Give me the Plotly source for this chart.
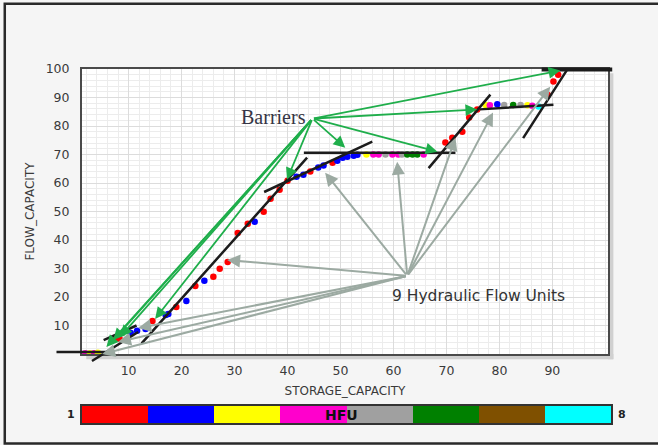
import plotly.graph_objects as go

# Hydraulic flow unit palette, HFU 1..8
hfu_ids = [1, 2, 3, 4, 5, 6, 7, 8]
hfu_colors = ["#ff0000", "#0000ff", "#ffff00", "#ff00cc",
              "#a0a0a0", "#008000", "#7f5000", "#00ffff"]

# Core samples: cumulative storage capacity, flow capacity and HFU
storage = [1.8, 2.7, 3.5, 4.2, 7.5, 8.3, 10.4, 11.6, 13.2, 14.5, 17.0, 17.5,
           19.0, 20.9, 22.6, 24.3, 26.0, 27.2, 28.7, 30.6, 32.5, 33.8, 35.5,
           36.8, 38.5, 40.0, 41.7, 43.0, 44.3, 45.8, 46.8, 48.5, 49.4, 50.4,
           51.3, 52.5, 53.2, 54.9, 56.2, 57.2, 58.5, 59.8, 60.9, 61.6, 62.6,
           63.6, 64.5, 65.7, 69.8, 71.1, 73.0, 74.3, 75.8, 77.4, 78.2, 79.6,
           80.9, 82.6, 84.0, 85.3, 86.2, 87.4, 89.1, 90.2, 91.1]
flow = [0.3, 0.3, 0.3, 0.4, 5.6, 5.3, 7.4, 8.2, 8.8, 11.6, 13.7, 14.0,
        16.5, 18.6, 23.9, 25.7, 27.1, 29.9, 32.3, 42.5, 45.7, 46.4, 49.9,
        54.5, 57.6, 60.8, 62.2, 62.9, 64.0, 65.4, 66.1, 67.1, 67.8, 68.9,
        69.2, 69.6, 69.9, 70.0, 70.0, 70.0, 70.0, 70.0, 70.0, 70.0, 70.0,
        70.0, 70.0, 70.0, 74.2, 75.9, 78.0, 83.0, 85.8, 87.4, 87.3, 87.6,
        87.4, 87.4, 87.4, 87.3, 87.1, 86.8, 91.0, 95.6, 98.0]
hfu = [4, 3, 4, 3, 1, 1, 2, 2, 2, 1, 2, 2,
       1, 2, 1, 2, 1, 1, 1, 1, 1, 2, 1,
       1, 1, 1, 2, 2, 1, 2, 2, 1, 2, 2,
       2, 2, 2, 3, 4, 4, 5, 4, 4, 5, 6,
       6, 6, 4, 1, 1, 1, 1, 1, 3, 4, 2,
       5, 6, 5, 3, 4, 8, 1, 1, 1]

# Straight-line fits of the flow units (start -> end)
unit_x0 = [-3.9, 2.8, 5.0, 12.2, 35.3, 42.8, 66.4, 76.0, 84.3, 87.7]
unit_y0 = [0.7, -2.8, 4.6, 3.2, 56.6, 70.6, 64.7, 85.8, 75.2, 99.8]
unit_x1 = [7.1, 11.8, 11.5, 43.7, 56.0, 71.7, 78.3, 90.2, 92.8, 101.3]
unit_y1 = [0.7, 7.7, 10.0, 68.9, 74.5, 70.6, 91.0, 87.5, 99.8, 99.8]
unit_w = [2.5, 2.5, 2.5, 2.5, 2.5, 2.5, 2.5, 2.5, 2.5, 4]

# "Barriers" callout: label anchor and the breaks it points at
barrier_src = (44.7, 82.6)
barrier_x = [91.5, 75.8, 68.3, 50.9, 39.9, 15.0, 8.4, 7.1, 5.8]
barrier_y = [99.5, 85.8, 71.0, 72.4, 61.2, 12.3, 6.0, 4.9, 2.5]

# "9 Hydraulic Flow Units" callout: one arrow per unit
unit_src = (62.6, 27.4)
unit_tx = [47.1, 60.7, 71.7, 78.8, 89.6, 28.6, 11.8, 8.0, 5.0]
unit_ty = [63.6, 67.5, 75.9, 84.7, 93.8, 33.0, 9.1, 4.2, 0.0]

x_ticks = [10, 20, 30, 40, 50, 60, 70, 80, 90]
y_ticks = [10, 20, 30, 40, 50, 60, 70, 80, 90, 100]

tick_font = dict(family="DejaVu Sans", size=12.5, color="#3a3a3a")
title_font = dict(family="DejaVu Sans", size=12, color="#3a3a3a")

fig = go.Figure()

fig.add_trace(go.Scatter(
    x=storage, y=flow, mode="markers",
    marker=dict(size=6.5, color=[hfu_colors[h - 1] for h in hfu], line=dict(width=0)),
    showlegend=False, hoverinfo="skip", xaxis="x", yaxis="y"))

# HFU colour key drawn as a one-row heatmap
scale = []
for i, c in enumerate(hfu_colors):
    scale.append([i / len(hfu_colors), c])
    scale.append([(i + 1) / len(hfu_colors), c])
fig.add_trace(go.Heatmap(
    z=[hfu_ids], x=hfu_ids, y=[0], zmin=0.5, zmax=8.5,
    colorscale=scale, showscale=False, hoverinfo="skip",
    xaxis="x2", yaxis="y2"))

for x0, y0, x1, y1, w in zip(unit_x0, unit_y0, unit_x1, unit_y1, unit_w):
    fig.add_annotation(x=x1, y=y1, ax=x0, ay=y0, xref="x", yref="y",
                       axref="x", ayref="y", text="", showarrow=True,
                       arrowhead=0, arrowwidth=w, arrowcolor="#1c1c1c",
                       standoff=0, startstandoff=0)

for tx, ty in zip(unit_tx, unit_ty):
    fig.add_annotation(x=tx, y=ty, ax=unit_src[0], ay=unit_src[1], xref="x", yref="y",
                       axref="x", ayref="y", text="", showarrow=True,
                       arrowhead=2, arrowsize=1.3, arrowwidth=2, arrowcolor="#9caaa2",
                       standoff=0, startstandoff=0)

for tx, ty in zip(barrier_x, barrier_y):
    fig.add_annotation(x=tx, y=ty, ax=barrier_src[0], ay=barrier_src[1], xref="x", yref="y",
                       axref="x", ayref="y", text="", showarrow=True,
                       arrowhead=2, arrowsize=1.3, arrowwidth=1.8, arrowcolor="#1fae4b",
                       standoff=0, startstandoff=0)

fig.add_annotation(x=43.8, y=83.0, xref="x", yref="y", text="Barriers",
                   showarrow=False, xanchor="right", yanchor="middle",
                   font=dict(family="Liberation Serif", size=20, color="#353545"))
fig.add_annotation(x=59.3, y=20.4, xref="x", yref="y", text="9 Hydraulic Flow Units",
                   showarrow=False, xanchor="left", yanchor="middle",
                   font=dict(family="DejaVu Sans", size=15.5, color="#333333"))

# colour key labels
fig.add_annotation(x=0, y=0.5, xref="x2 domain", yref="y2 domain", text="1",
                   showarrow=False, xanchor="right", xshift=-5,
                   font=dict(family="DejaVu Sans", size=11, color="#222", weight="bold"))
fig.add_annotation(x=1, y=0.5, xref="x2 domain", yref="y2 domain", text="8",
                   showarrow=False, xanchor="left", xshift=5,
                   font=dict(family="DejaVu Sans", size=11, color="#222", weight="bold"))
fig.add_annotation(x=4.42, y=0, xref="x2", yref="y2", text="HFU",
                   showarrow=False, xanchor="center", yanchor="middle",
                   font=dict(family="DejaVu Sans", size=14, color="#111", weight="bold"))

# drop shadow of the plot frame and the outer frame
shadow = "#d0d0d0"
fig.add_shape(type="rect", xref="paper", yref="paper", x0=0.9943, x1=1.0045,
              y0=0.180, y1=0.988, fillcolor=shadow, line_width=0, layer="below")
fig.add_shape(type="rect", xref="paper", yref="paper", x0=0.008, x1=1.0045,
              y0=0.180, y1=0.195, fillcolor=shadow, line_width=0, layer="below")
fig.add_shape(type="rect", xref="paper", yref="paper", x0=-0.146, x1=1.2,
              y0=-0.058, y1=1.184, line=dict(color="#2a2a2a", width=2.5),
              fillcolor="rgba(0,0,0,0)", layer="below")

fig.update_layout(
    width=658, height=445,
    margin=dict(l=82, r=47, t=69, b=22),
    paper_bgcolor="#f5f5f5", plot_bgcolor="#ffffff",
    showlegend=False,
    xaxis=dict(domain=[0, 0.9943], range=[1.2, 100.5], tickvals=x_ticks,
               ticks="", tickfont=tick_font, showgrid=True, gridcolor="#dcdcdc",
               gridwidth=1, minor=dict(dtick=2, tick0=0, showgrid=True,
                                       gridcolor="#ececec", gridwidth=1),
               showline=True, mirror=True, linecolor="#4a4a4a", linewidth=2,
               zeroline=False, ticklabelstandoff=4,
               title=dict(text="STORAGE_CAPACITY", font=title_font, standoff=10)),
    yaxis=dict(domain=[0.1949, 1], range=[0, 100], tickvals=y_ticks,
               ticks="", tickfont=tick_font, showgrid=True, gridcolor="#dcdcdc",
               gridwidth=1, minor=dict(dtick=2, tick0=0, showgrid=True,
                                       gridcolor="#ececec", gridwidth=1),
               showline=True, mirror=True, linecolor="#4a4a4a", linewidth=2,
               zeroline=False, ticklabelstandoff=8,
               title=dict(text="FLOW_CAPACITY", font=title_font, standoff=8)),
    xaxis2=dict(domain=[0, 1], anchor="y2", range=[0.5, 8.5], showticklabels=False,
                ticks="", showgrid=False, zeroline=False, showline=True, mirror=True,
                linecolor="#333", linewidth=1.5),
    yaxis2=dict(domain=[0, 0.048], anchor="x2", range=[-0.5, 0.5], showticklabels=False,
                ticks="", showgrid=False, zeroline=False, showline=True, mirror=True,
                linecolor="#333", linewidth=1.5),
)

fig.write_html("out.html")
